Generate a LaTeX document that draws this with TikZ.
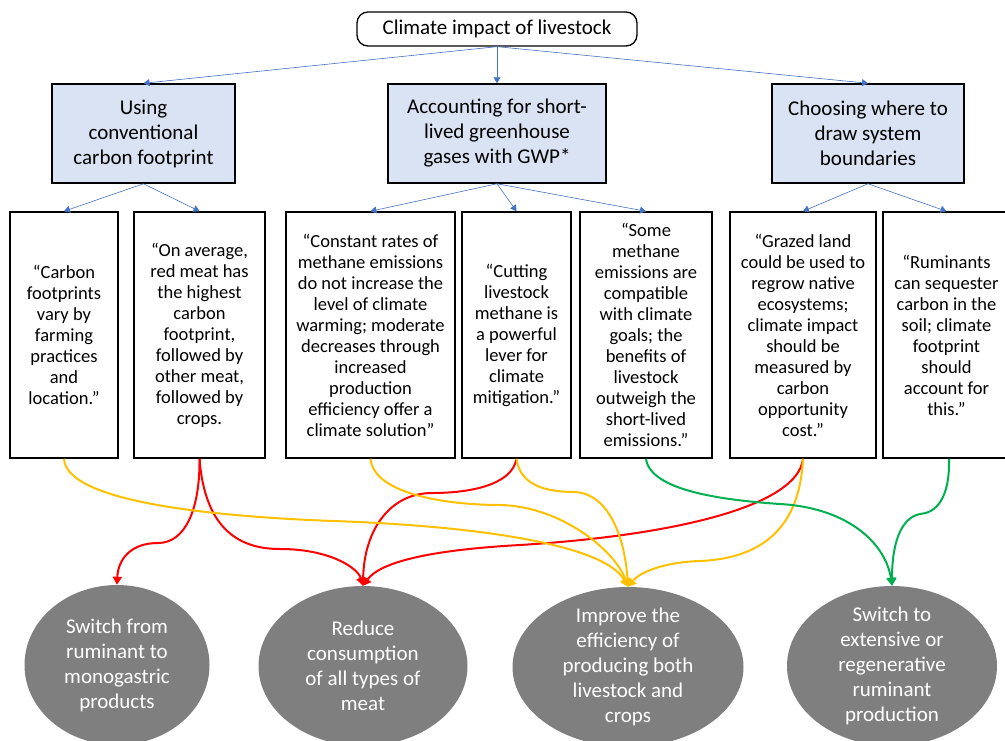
\documentclass[tikz,border=0pt]{standalone}
\usepackage{fontspec}
\setmainfont{Carlito}
\usepackage{tikz}
\usetikzlibrary{shapes.geometric,arrows.meta}
\definecolor{headfill}{RGB}{218,227,243}
\definecolor{linkblue}{RGB}{68,114,196}
\definecolor{optgray}{RGB}{127,127,127}
\definecolor{redpath}{RGB}{255,0,0}
\definecolor{ambpath}{RGB}{255,192,0}
\definecolor{greenpath}{RGB}{0,176,80}

\begin{document}
\begin{tikzpicture}[x=1pt,y=-1pt,
    topbox/.style={draw,line width=1.3pt,rounded corners=11pt,minimum width=280pt,minimum height=34pt,font=\fontsize{21}{24}\selectfont},
    headbox/.style={draw,line width=1.5pt,fill=headfill,minimum height=99pt,align=center,font=\fontsize{21}{25}\selectfont},
    quotebox/.style={draw,line width=1.5pt,minimum height=246pt,align=center,font=\fontsize{18.5}{21}\selectfont},
    optnode/.style={ellipse,fill=optgray,text=white,minimum height=160pt,inner sep=-14pt,align=center,font=\fontsize{21}{25}\selectfont},
    treelink/.style={linkblue,line width=0.6pt,-{Triangle[width=7pt,length=6pt]}},
    pathlink/.style={line width=2pt,-{Triangle[width=9pt,length=8pt]}}]
    \useasboundingbox (0,0) rectangle (1005,740);

    % Question
    \node[topbox] (top) at (497,29) {Climate impact of livestock};

    % Framings
    \node[headbox,minimum width=183pt] (conv) at (143.5,133.5) {Using\\conventional\\carbon footprint};
    \node[headbox,minimum width=218pt] (gwp) at (497,133.5) {Accounting for short-\\lived greenhouse\\gases with GWP*};
    \node[headbox,minimum width=192pt] (bound) at (868,133.5) {Choosing where to\\draw system\\boundaries};

    % Claims
    \node[quotebox,minimum width=108pt] (vary) at (64,335) {“Carbon\\footprints\\vary by\\farming\\practices\\and\\location.”};
    \node[quotebox,minimum width=131pt] (redmeat) at (199.5,335) {“On average,\\red meat has\\the highest\\carbon\\footprint,\\followed by\\other meat,\\followed by\\crops.};
    \node[quotebox,minimum width=169pt] (constant) at (370.5,335) {“Constant rates of\\methane emissions\\do not increase the\\level of climate\\warming; moderate\\decreases through\\increased\\production\\efficiency offer a\\climate solution”};
    \node[quotebox,minimum width=109pt] (cutting) at (516.5,335) {“Cutting\\livestock\\methane is\\a powerful\\lever for\\climate\\mitigation.”};
    \node[quotebox,minimum width=132pt] (compat) at (646,335) {“Some\\methane\\emissions are\\compatible\\with climate\\goals; the\\benefits of\\livestock\\outweigh the\\short-lived\\emissions.”};
    \node[quotebox,minimum width=146pt] (grazed) at (803,335) {“Grazed land\\could be used to\\regrow native\\ecosystems;\\climate impact\\should be\\measured by\\carbon\\opportunity\\cost.”};
    \node[quotebox,minimum width=127pt] (sequest) at (946.5,335) {“Ruminants\\can sequester\\carbon in the\\soil; climate\\footprint\\should\\account for\\this.”};

    % Options
    \node[optnode,minimum width=185pt] (mono) at (117,665) {Switch from\\ruminant to\\monogastric\\products};
    \node[optnode,minimum width=209pt] (reduce) at (363,666) {Reduce\\consumption\\of all types of\\meat};
    \node[optnode,minimum width=231pt] (effic) at (628,667) {Improve the\\efficiency of\\producing both\\livestock and\\crops};
    \node[optnode,minimum width=210pt] (extens) at (892,666) {Switch to\\extensive or\\regenerative\\ruminant\\production};

    % Tree
    \draw[treelink] (top.south) -- (conv.north);
    \draw[treelink] (top.south) -- (gwp.north);
    \draw[treelink] (top.south) -- (bound.north);
    \draw[treelink] (conv.south) -- (vary.north);
    \draw[treelink] (conv.south) -- (redmeat.north);
    \draw[treelink] (gwp.south) -- (constant.north);
    \draw[treelink] (gwp.south) -- (cutting.north);
    \draw[treelink] (gwp.south) -- (compat.north);
    \draw[treelink] (bound.south) -- (grazed.north);
    \draw[treelink] (bound.south) -- (sequest.north);

    % Red links
    \draw[pathlink,redpath] (redmeat.south) .. controls (200,510) and (185,543) .. (158,543) .. controls (130,543) and (118,560) .. (mono.north);
    \draw[pathlink,redpath] (redmeat.south) .. controls (205,530) and (240,549) .. (280,549) .. controls (330,549) and (358,568) .. (reduce.north);
    \draw[pathlink,redpath] (cutting.south) .. controls (512,485) and (470,493) .. (432,493) .. controls (390,493) and (364,530) .. (reduce.north);
    \draw[pathlink,redpath] (grazed.south) .. controls (798,505) and (680,535) .. (520,545) .. controls (430,550) and (380,562) .. (reduce.north);

    % Amber links
    \draw[pathlink,ambpath] (vary.south) .. controls (66,500) and (200,516) .. (333,521) .. controls (480,526) and (605,545) .. (effic.north);
    \draw[pathlink,ambpath] (constant.south) .. controls (374,495) and (450,505) .. (500,505) .. controls (560,506) and (615,550) .. (effic.north);
    \draw[pathlink,ambpath] (cutting.south) .. controls (520,485) and (545,492) .. (575,492) .. controls (610,494) and (625,540) .. (effic.north);
    \draw[pathlink,ambpath] (grazed.south) .. controls (800,520) and (770,558) .. (700,561) .. controls (665,562) and (640,572) .. (effic.north);

    % Green links
    \draw[pathlink,greenpath] (compat.south) .. controls (650,490) and (720,500) .. (780,504) .. controls (850,508) and (886,545) .. (extens.north);
    \draw[pathlink,greenpath] ([xshift=2.5pt]sequest.south) .. controls (950,500) and (935,513) .. (920,514) .. controls (900,518) and (892,545) .. (extens.north);
\end{tikzpicture}
\end{document}
